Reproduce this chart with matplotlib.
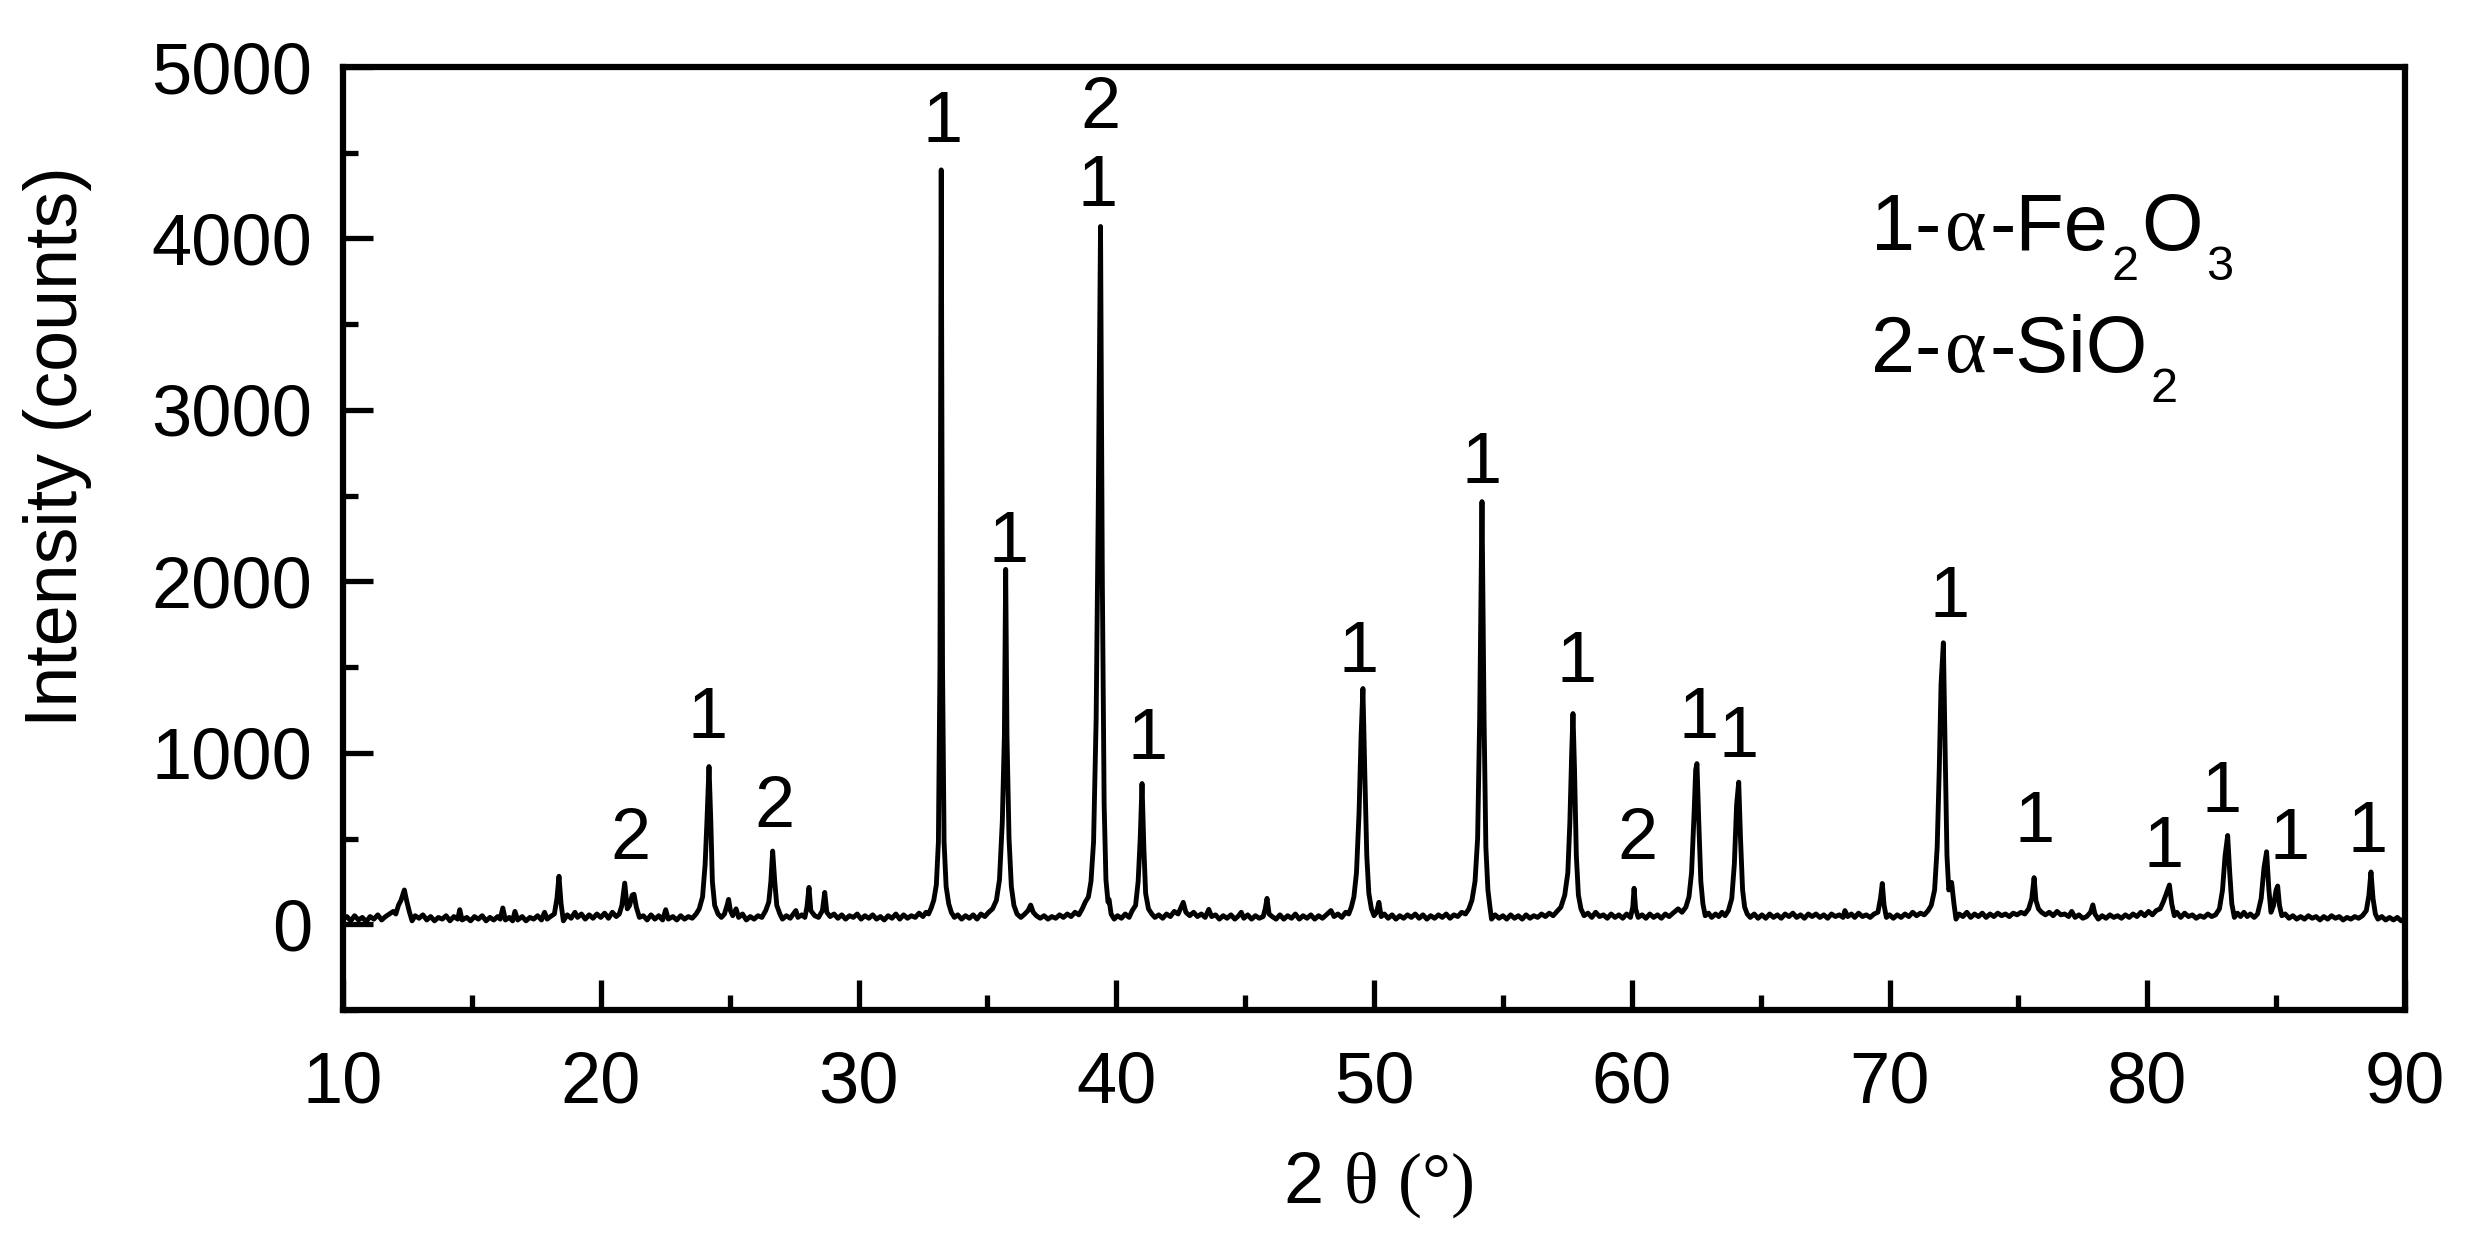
import matplotlib
matplotlib.use('Agg')
import matplotlib.pyplot as plt
import matplotlib.transforms as mtransforms
from matplotlib.ticker import MultipleLocator

# ---------------- data ----------------
seg_10_20 = [(10.0, 30), (10.15, 45), (10.3, 20), (10.45, 50), (10.6, 25), (10.75, 40), (10.9, 15),
             (11.05, 45), (11.2, 30), (11.35, 55), (11.5, 25), (11.65, 45), (11.8, 60), (11.95, 75),
             (12.05, 60), (12.15, 110), (12.25, 140), (12.38, 200), (12.48, 130), (12.58, 70), (12.68, 20),
             (12.8, 50), (12.95, 35), (13.1, 55), (13.25, 25), (13.4, 45), (13.55, 20), (13.7, 40),
             (13.85, 30), (14.0, 50), (14.15, 20), (14.3, 45), (14.45, 30), (14.53, 85), (14.62, 25),
             (14.8, 40), (14.95, 20), (15.1, 45), (15.25, 30), (15.4, 50), (15.55, 20), (15.7, 40),
             (15.85, 25), (16.0, 45), (16.1, 30), (16.2, 95), (16.3, 25), (16.45, 40), (16.58, 20),
             (16.67, 75), (16.78, 25), (16.95, 45), (17.1, 20), (17.25, 40), (17.4, 30), (17.55, 50),
             (17.7, 25), (17.82, 70), (17.92, 30), (18.05, 45), (18.2, 60), (18.3, 150), (18.38, 280),
             (18.46, 120), (18.55, 20), (18.7, 55), (18.85, 35), (19.0, 70), (19.1, 40), (19.25, 60),
             (19.4, 30), (19.55, 55), (19.7, 35), (19.85, 60), (20.0, 40)]

seg_20_30 = [(20.15, 65), (20.3, 35), (20.45, 70), (20.6, 45), (20.72, 60), (20.82, 110), (20.93, 240),
             (21.03, 90), (21.12, 110), (21.22, 170), (21.29, 175), (21.38, 100), (21.5, 40), (21.65, 50),
             (21.8, 25), (21.95, 55), (22.1, 30), (22.25, 50), (22.4, 25), (22.52, 85), (22.62, 30),
             (22.8, 45), (22.95, 25), (23.1, 50), (23.25, 30), (23.4, 45), (23.55, 35), (23.7, 60),
             (23.82, 90), (23.95, 160), (24.05, 350), (24.12, 600), (24.2, 920), (24.27, 600), (24.33, 250),
             (24.42, 110), (24.55, 60), (24.68, 40), (24.8, 60), (24.9, 110), (24.96, 145), (25.03, 80),
             (25.12, 50), (25.25, 90), (25.35, 40), (25.5, 60), (25.65, 25), (25.8, 45), (25.95, 30),
             (26.1, 50), (26.25, 40), (26.4, 80), (26.52, 130), (26.6, 250), (26.67, 427), (26.75, 250),
             (26.83, 110), (26.95, 60), (27.05, 30), (27.2, 50), (27.35, 35), (27.5, 65), (27.57, 80),
             (27.65, 40), (27.8, 55), (27.92, 40), (28.0, 100), (28.08, 215), (28.15, 80), (28.3, 50),
             (28.45, 40), (28.6, 80), (28.69, 186), (28.77, 70), (28.9, 45), (29.05, 60), (29.2, 35),
             (29.35, 55), (29.5, 30), (29.65, 50), (29.8, 40), (29.95, 60)]

seg_30_40 = [(30.1, 30), (30.25, 50), (30.4, 35), (30.55, 55), (30.7, 30), (30.85, 45), (31.0, 25),
             (31.15, 50), (31.3, 35), (31.45, 60), (31.6, 30), (31.75, 55), (31.9, 35), (32.05, 50),
             (32.2, 40), (32.35, 65), (32.5, 45), (32.62, 70), (32.72, 60), (32.82, 95), (32.92, 140),
             (33.02, 230), (33.1, 480), (33.16, 1500), (33.21, 4400), (33.26, 1500), (33.32, 480),
             (33.4, 220), (33.5, 120), (33.6, 70), (33.72, 40), (33.85, 55), (34.0, 30), (34.15, 50),
             (34.3, 35), (34.45, 55), (34.6, 30), (34.75, 60), (34.9, 45), (35.05, 70), (35.2, 90),
             (35.35, 140), (35.47, 260), (35.58, 600), (35.66, 1100), (35.71, 2070), (35.76, 1100),
             (35.84, 500), (35.93, 220), (36.03, 110), (36.15, 60), (36.3, 40), (36.45, 60), (36.58, 80),
             (36.68, 112), (36.78, 70), (36.9, 50), (37.05, 35), (37.2, 50), (37.35, 30), (37.5, 45),
             (37.65, 35), (37.8, 55), (37.95, 40), (38.1, 60), (38.25, 45), (38.4, 70), (38.55, 55),
             (38.68, 90), (38.8, 130), (38.92, 160), (39.02, 250), (39.12, 480), (39.22, 1200),
             (39.3, 2400), (39.39, 4070), (39.46, 2000), (39.53, 700), (39.6, 260), (39.68, 130),
             (39.72, 145), (39.8, 60), (39.92, 30)]

seg_40_50 = [(40.05, 50), (40.2, 35), (40.35, 60), (40.5, 40), (40.62, 80), (40.75, 110), (40.85, 250),
             (40.93, 500), (41.0, 821), (41.07, 450), (41.14, 180), (41.25, 90), (41.38, 60), (41.5, 40),
             (41.65, 55), (41.8, 35), (41.95, 60), (42.1, 45), (42.25, 75), (42.4, 60), (42.52, 100),
             (42.6, 128), (42.7, 70), (42.85, 50), (43.0, 70), (43.15, 45), (43.3, 60), (43.45, 40),
             (43.59, 87), (43.7, 45), (43.85, 55), (44.0, 30), (44.15, 50), (44.3, 35), (44.45, 55),
             (44.6, 30), (44.75, 50), (44.85, 70), (44.95, 35), (45.1, 55), (45.25, 30), (45.4, 50),
             (45.55, 35), (45.7, 45), (45.78, 90), (45.85, 151), (45.93, 60), (46.05, 45), (46.2, 30),
             (46.35, 55), (46.5, 30), (46.65, 50), (46.8, 35), (46.95, 60), (47.1, 30), (47.25, 50),
             (47.4, 35), (47.55, 55), (47.7, 30), (47.85, 50), (48.0, 35), (48.15, 55), (48.33, 80),
             (48.45, 45), (48.6, 60), (48.75, 40), (48.9, 70), (49.02, 60), (49.12, 100), (49.22, 160),
             (49.32, 300), (49.42, 650), (49.5, 1100), (49.57, 1375), (49.64, 900), (49.72, 400),
             (49.8, 180), (49.9, 90), (50.0, 50)]

seg_50_60 = [(50.1, 70), (50.19, 128), (50.28, 45), (50.4, 60), (50.55, 35), (50.7, 55), (50.85, 30),
             (51.0, 50), (51.15, 35), (51.3, 55), (51.45, 40), (51.6, 60), (51.75, 35), (51.9, 55),
             (52.05, 30), (52.2, 50), (52.35, 35), (52.5, 55), (52.65, 40), (52.8, 60), (52.95, 35),
             (53.1, 55), (53.25, 45), (53.4, 70), (53.55, 60), (53.68, 90), (53.8, 140), (53.92, 250),
             (54.02, 500), (54.1, 1200), (54.19, 2465), (54.27, 1200), (54.34, 450), (54.42, 200),
             (54.49, 110), (54.56, 30), (54.7, 55), (54.85, 35), (55.0, 50), (55.15, 30), (55.3, 55),
             (55.45, 35), (55.6, 50), (55.75, 30), (55.9, 55), (56.05, 35), (56.2, 50), (56.35, 40),
             (56.5, 60), (56.65, 45), (56.8, 65), (56.95, 50), (57.1, 75), (57.25, 100), (57.4, 170),
             (57.52, 300), (57.6, 600), (57.67, 1000), (57.72, 1229), (57.78, 900), (57.85, 400),
             (57.93, 170), (58.03, 90), (58.15, 50), (58.3, 65), (58.45, 40), (58.6, 70), (58.75, 45),
             (58.9, 55), (59.05, 35), (59.2, 60), (59.35, 40), (59.5, 55), (59.65, 35), (59.8, 60),
             (59.95, 40), (60.04, 100), (60.09, 210), (60.15, 90), (60.25, 40)]

seg_60_70 = [(60.4, 55), (60.55, 35), (60.7, 60), (60.85, 40), (61.0, 55), (61.15, 35), (61.3, 60),
             (61.45, 45), (61.6, 65), (61.8, 90), (61.95, 70), (62.1, 100), (62.22, 160), (62.32, 300),
             (62.42, 650), (62.48, 900), (62.53, 937), (62.6, 600), (62.68, 250), (62.76, 120), (62.85, 50),
             (62.98, 65), (63.1, 40), (63.25, 60), (63.38, 45), (63.5, 70), (63.62, 50), (63.75, 80),
             (63.88, 150), (63.98, 350), (64.07, 700), (64.15, 829), (64.22, 500), (64.3, 200), (64.38, 100),
             (64.48, 60), (64.6, 40), (64.75, 60), (64.9, 35), (65.05, 55), (65.2, 35), (65.35, 60),
             (65.5, 40), (65.65, 55), (65.8, 35), (65.95, 60), (66.1, 45), (66.25, 65), (66.4, 40),
             (66.55, 55), (66.7, 35), (66.85, 60), (67.0, 45), (67.15, 60), (67.3, 40), (67.45, 55),
             (67.6, 35), (67.75, 60), (67.9, 45), (68.05, 55), (68.2, 40), (68.27, 80), (68.38, 45),
             (68.52, 60), (68.65, 40), (68.8, 65), (68.95, 45), (69.1, 55), (69.25, 40), (69.4, 60),
             (69.55, 70), (69.65, 150), (69.72, 238), (69.79, 110), (69.88, 40), (70.0, 55)]

seg_70_80 = [(70.15, 35), (70.3, 55), (70.45, 40), (70.6, 60), (70.75, 45), (70.9, 70), (71.05, 50),
             (71.2, 65), (71.35, 55), (71.5, 80), (71.62, 110), (71.75, 200), (71.85, 450), (71.93, 900),
             (72.0, 1400), (72.09, 1642), (72.16, 1000), (72.23, 400), (72.3, 200), (72.41, 244),
             (72.5, 120), (72.58, 30), (72.7, 60), (72.85, 45), (73.0, 70), (73.15, 40), (73.3, 60),
             (73.45, 45), (73.6, 65), (73.75, 40), (73.9, 60), (74.05, 45), (74.2, 65), (74.35, 50),
             (74.5, 60), (74.65, 45), (74.8, 65), (74.95, 55), (75.1, 70), (75.25, 60), (75.4, 90),
             (75.52, 150), (75.61, 272), (75.68, 140), (75.78, 90), (75.9, 70), (76.05, 55), (76.2, 70),
             (76.35, 50), (76.5, 75), (76.65, 55), (76.8, 60), (76.95, 45), (77.07, 75), (77.2, 40),
             (77.35, 55), (77.5, 35), (77.65, 45), (77.8, 70), (77.89, 113), (77.97, 60), (78.1, 30),
             (78.25, 50), (78.4, 35), (78.55, 55), (78.7, 40), (78.85, 50), (79.0, 35), (79.15, 55),
             (79.3, 40), (79.45, 60), (79.6, 45), (79.75, 70), (79.9, 50)]

seg_80_90 = [(80.05, 75), (80.2, 55), (80.35, 80), (80.5, 90), (80.62, 130), (80.72, 170), (80.86, 229),
             (80.95, 120), (81.05, 50), (81.15, 70), (81.3, 40), (81.45, 65), (81.6, 45), (81.75, 55),
             (81.9, 35), (82.05, 50), (82.2, 40), (82.35, 60), (82.5, 45), (82.65, 55), (82.8, 90),
             (82.92, 200), (83.02, 400), (83.12, 518), (83.2, 300), (83.28, 120), (83.38, 40), (83.5, 65),
             (83.62, 45), (83.75, 70), (83.88, 45), (84.0, 60), (84.15, 40), (84.28, 60), (84.42, 150),
             (84.53, 330), (84.63, 423), (84.72, 200), (84.8, 70), (84.9, 110), (85.0, 200), (85.06, 223),
             (85.13, 110), (85.22, 50), (85.35, 60), (85.5, 35), (85.65, 50), (85.8, 30), (85.95, 45),
             (86.1, 30), (86.25, 50), (86.4, 35), (86.55, 45), (86.7, 25), (86.85, 45), (87.0, 30),
             (87.15, 50), (87.3, 35), (87.45, 45), (87.6, 25), (87.75, 40), (87.9, 30), (88.05, 45),
             (88.2, 35), (88.35, 50), (88.5, 80), (88.6, 170), (88.68, 305), (88.76, 150), (88.85, 60),
             (88.95, 30), (89.1, 45), (89.25, 25), (89.4, 40), (89.55, 25), (89.7, 40), (89.85, 20),
             (90.0, 35)]

# peak assignment labels: 1 = alpha-Fe2O3, 2 = alpha-SiO2
label_x = [21.17, 24.15, 26.74, 33.26, 35.83, 39.37, 39.27, 41.2, 49.4, 54.17, 57.84, 60.24,
           62.6, 64.13, 72.33, 75.61, 80.65, 82.89, 85.54, 88.53]
label_y = [378, 1089, 565, 4560, 2111, 4646, 4192, 966, 1470, 2571, 1415, 378,
           1086, 975, 1790, 477, 332, 652, 378, 421]
label_txt = ['2', '1', '2', '1', '1', '2', '1', '1', '1', '1', '1', '2',
             '1', '1', '1', '1', '1', '1', '1', '1']

# phase key, as (text, is_subscript, is_greek) pieces
key_fe2o3 = [('1-', False, False), ('α', False, True), ('-Fe', False, False), ('2', True, False),
             ('O', False, False), ('3', True, False)]
key_sio2 = [('2-', False, False), ('α', False, True), ('-SiO', False, False), ('2', True, False)]

# ---------------- plotting ----------------
SANS = ['Liberation Sans', 'DejaVu Sans']
SERIF = ['Liberation Serif', 'DejaVu Serif']
plt.rcParams['font.family'] = SANS
plt.rcParams['mathtext.fontset'] = 'custom'
plt.rcParams['mathtext.rm'] = 'Liberation Serif'
plt.rcParams['mathtext.it'] = 'Liberation Serif:italic'
plt.rcParams['mathtext.bf'] = 'Liberation Serif:bold'
plt.rcParams['mathtext.sf'] = 'Liberation Sans'

segments = [seg_10_20, seg_20_30, seg_30_40, seg_40_50, seg_50_60, seg_60_70, seg_70_80, seg_80_90]
two_theta = [p[0] for s in segments for p in s]
intensity = [p[1] for s in segments for p in s]

W, H = 2471, 1239
fig = plt.figure(figsize=(W / 100, H / 100), dpi=100)
ax = fig.add_axes([343 / W, 1 - 1010 / H, (2405 - 343) / W, (1010 - 67) / H])

ax.plot(two_theta, intensity, color='black', lw=3.5, solid_joinstyle='round')

ax.set_xlim(10, 90)
ax.set_ylim(-500, 5000)
ax.xaxis.set_major_locator(MultipleLocator(10))
ax.xaxis.set_minor_locator(MultipleLocator(5))
ax.set_yticks([0, 1000, 2000, 3000, 4000, 5000])
ax.yaxis.set_minor_locator(MultipleLocator(500))

for sp in ax.spines.values():
    sp.set_linewidth(4.5)
ax.tick_params(which='both', direction='in', top=False, right=False, width=3.8,
               labelsize=52, colors='black')
ax.tick_params(which='major', length=21.6)
ax.tick_params(which='minor', length=10.8)
ax.tick_params(axis='x', pad=29)
ax.tick_params(axis='y', pad=22)

for x, y, t in zip(label_x, label_y, label_txt):
    ax.text(x, y, t, ha='center', va='baseline', fontsize=52)

renderer = fig.canvas.get_renderer()


def draw_key(x, y, pieces, size=57, sub_size=35, sub_drop_px=30):
    offset = 0.0
    for txt, is_sub, is_greek in pieces:
        drop = sub_drop_px if is_sub else 0
        tr = ax.transData + mtransforms.ScaledTranslation(offset / fig.dpi, -drop / fig.dpi,
                                                          fig.dpi_scale_trans)
        t = ax.text(x, y, txt, transform=tr, ha='left', va='baseline',
                    fontsize=sub_size if is_sub else size,
                    family=SERIF if is_greek else SANS)
        offset += t.get_window_extent(renderer).width + 3


draw_key(69.3, 3930, key_fe2o3)
draw_key(69.3, 3220, key_sio2)

fig.text(1378 / W, 1 - 1203 / H, r'2 $\mathrm{\theta}$ $\mathrm{(°)}$', ha='center',
         va='baseline', fontsize=52)
fig.text(77 / W, 1 - 447 / H, 'Intensity (counts)', rotation=90, rotation_mode='anchor',
         ha='center', va='baseline', fontsize=53)

fig.savefig('out.png', dpi=100, facecolor='white')
